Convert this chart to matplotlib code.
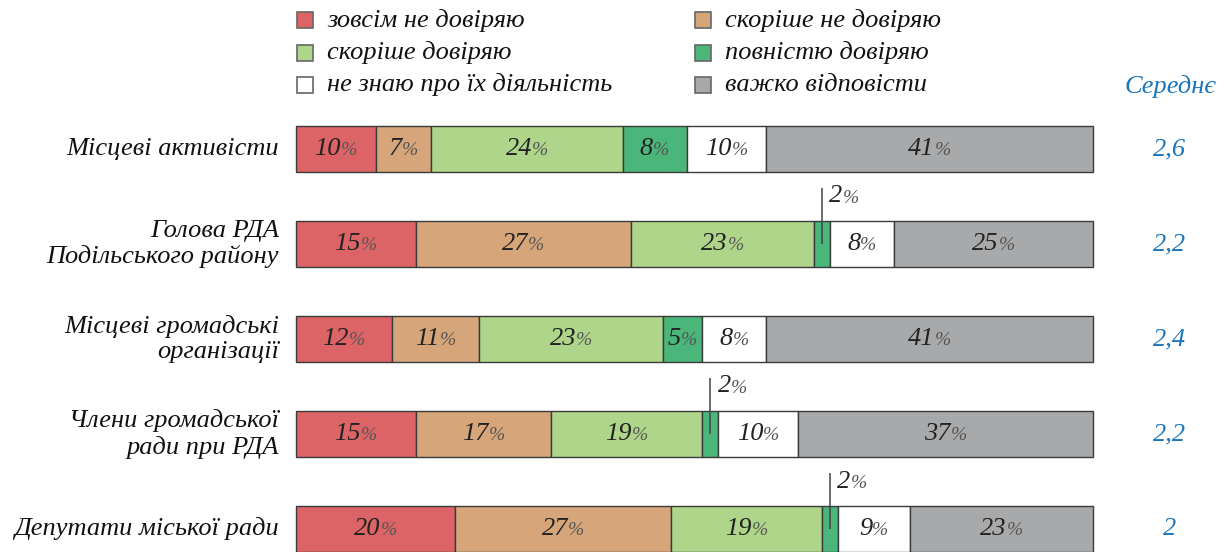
import matplotlib
matplotlib.use("Agg")
import matplotlib.pyplot as plt
from matplotlib.patches import Rectangle
import numpy as np

categories = [
    "Місцеві активісти",
    "Голова РДА\nПодільського району",
    "Місцеві громадські\nорганізації",
    "Члени громадської\nради при РДА",
    "Депутати міської ради",
]
series_names = [
    "зовсім не довіряю",
    "скоріше не довіряю",
    "скоріше довіряю",
    "повністю довіряю",
    "не знаю про їх діяльність",
    "важко відповісти",
]
values = np.array([
    [10, 7, 24, 8, 10, 41],
    [15, 27, 23, 2, 8, 25],
    [12, 11, 23, 5, 8, 41],
    [15, 17, 19, 2, 10, 37],
    [20, 27, 19, 2, 9, 23],
])
averages = ["2,6", "2,2", "2,4", "2,2", "2"]
avg_title = "Середнє"

colors = ["#DC6466", "#D6A57A", "#AED58A", "#4BB67A", "#FFFFFF", "#A8A9AB"]
edge = "#3a3a3a"
blue = "#1B75BB"
FONT = "Liberation Serif"

W, H = 1227, 552
fig = plt.figure(figsize=(W / 100, H / 100), dpi=100)

# axes: 0..100 % spans the bar area; one unit of y is one row
left_px, right_px = 296, 1093
row0_px, row_step = 149, 95
ax = fig.add_axes([left_px / W, 0, (right_px - left_px) / W, 1])
ax.set_xlim(0, 100)
ax.set_ylim((H - row0_px) / row_step, -row0_px / row_step)
ax.axis("off")

px_per_x = (right_px - left_px) / 100


def xd(px):
    return (px - left_px) / px_per_x


def yd(py):
    return (py - row0_px) / row_step


bar_h = 0.49
fs = 19
fs_num = 19
fs_pct = 14

# stacked bars
lefts = np.zeros(len(categories))
seg_labels = []
for j in range(values.shape[1]):
    bars = ax.barh(range(len(categories)), values[:, j], left=lefts,
                   height=bar_h, color=colors[j], edgecolor=edge,
                   linewidth=1.0)
    for b in bars:
        b.set_clip_on(False)
    for i in range(len(categories)):
        v = values[i, j]
        cx = lefts[i] + v / 2
        if v >= 5:
            seg_labels.append((cx, i, v))
        else:
            ax.plot([cx, cx], [i, i - 0.59], color="#444444", lw=1.1,
                    solid_capstyle="butt")
            t1 = ax.text(cx + 0.9, i - 0.50, f"{v}", fontsize=fs_num,
                         family=FONT, style="italic", ha="left", va="center",
                         color="#222222")
            seg_labels.append(("small", t1))
    lefts += values[:, j]

# in-bar labels: number plus a smaller percent sign, centred as a pair
fig.canvas.draw()
r = fig.canvas.get_renderer()
inv = ax.transData.inverted()
for item in seg_labels:
    if item[0] == "small":
        t1 = item[1]
        bb = t1.get_window_extent(r)
        x_end = inv.transform((bb.x1, 0))[0]
        ax.text(x_end, t1.get_position()[1] + 0.02, "%", fontsize=fs_pct,
                family=FONT, style="italic", ha="left", va="center",
                color="#555555")
        continue
    cx, i, v = item
    t1 = ax.text(cx, i, f"{v}", fontsize=fs_num, family=FONT, style="italic",
                 ha="right", va="center", color="#222222")
    t2 = ax.text(cx, i + 0.02, "%", fontsize=fs_pct, family=FONT,
                 style="italic", ha="left", va="center", color="#555555")
    w1 = t1.get_window_extent(r).width / px_per_x
    w2 = t2.get_window_extent(r).width / px_per_x
    shift = (w1 - w2) / 2
    t1.set_x(cx + shift)
    t2.set_x(cx + shift)

# category labels
for i, c in enumerate(categories):
    ax.text(xd(279), i, c, fontsize=fs, family=FONT, style="italic",
            ha="right", va="center", color="#111111", linespacing=1.2,
            clip_on=False)

# average column
ax.text(xd(1170), yd(86), avg_title, fontsize=fs, family=FONT, style="italic",
        ha="center", va="center", color=blue, clip_on=False)
for i, a in enumerate(averages):
    ax.text(xd(1170), i, a, fontsize=fs, family=FONT, style="italic",
            ha="center", va="center", color=blue, clip_on=False)

# legend, two columns of three rows
leg_rows = [20, 53, 85]
leg_cols = [297, 695]
order = [(0, 0), (1, 0), (0, 1), (1, 1), (0, 2), (1, 2)]
sq = 16
for k, (c, rr) in enumerate(order):
    x0 = leg_cols[c]
    y0 = leg_rows[rr]
    rect = Rectangle((xd(x0), yd(y0 - sq / 2)), sq / px_per_x, sq / row_step,
                     facecolor=colors[k], edgecolor="#666666", lw=1.2,
                     clip_on=False)
    ax.add_patch(rect)
    ax.text(xd(x0 + 30), yd(y0), series_names[k], fontsize=fs,
            family=FONT, style="italic", ha="left", va="center",
            color="#111111", clip_on=False)

fig.savefig("out.png", dpi=100)
